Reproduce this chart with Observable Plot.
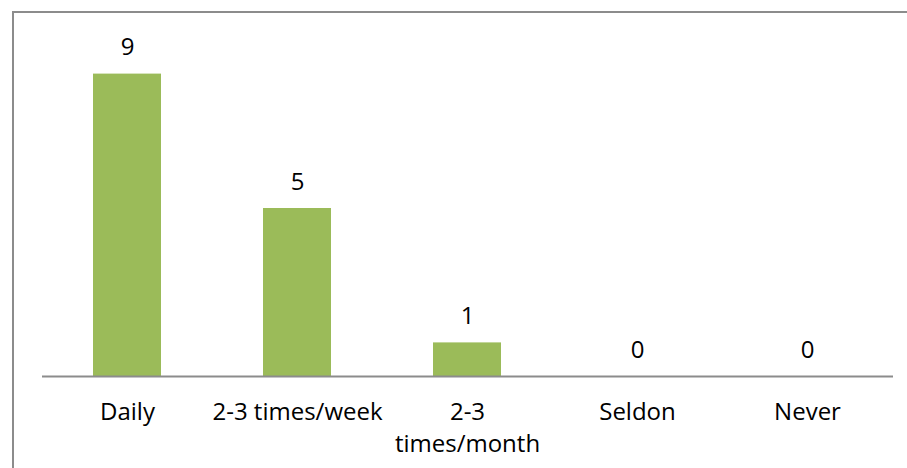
<!DOCTYPE html>
<html>
<head>
<meta charset="utf-8">
<script src="https://cdn.jsdelivr.net/npm/d3@7"></script>
<script src="https://cdn.jsdelivr.net/npm/@observablehq/plot@0.6"></script>
<style>
  html, body { margin: 0; padding: 0; background: #fff; }
  #wrap { position: relative; width: 907px; height: 468px; overflow: hidden; }
  #border { position: absolute; left: 12px; top: 11px; width: 1000px; height: 1000px; border-left: 2px solid #8c8c8c; border-top: 2px solid #8c8c8c; box-sizing: border-box; }
  #chart { position: absolute; left: 0; top: 0; }
</style>
</head>
<body>
<div id="wrap"><div id="border"></div><div id="chart"></div></div>
<script>
const categories = ["Daily", "2-3 times/week", "2-3 times/month", "Seldon", "Never"];
const tickLabels = ["Daily", "2-3 times/week", "2-3\ntimes/month", "Seldon", "Never"];
const values = [9, 5, 1, 0, 0];

const data = categories.map((c, i) => ({category: c, value: values[i]}));
const labelOf = new Map(categories.map((c, i) => [c, tickLabels[i]]));

const chart = Plot.plot({
  width: 907,
  height: 468,
  marginLeft: 42,
  marginRight: 14,
  marginTop: 40,
  marginBottom: 92,
  style: {fontFamily: "'Open Sans', sans-serif", fontSize: "24px", background: "transparent", color: "#000"},
  x: {domain: categories, paddingInner: 0.6, paddingOuter: 0.3, label: null},
  y: {domain: [0, 10], axis: null},
  marks: [
    Plot.barY(data, {x: "category", y: "value", fill: "#9BBB59"}),
    Plot.ruleY([0], {stroke: "#8c8c8c", strokeWidth: 2}),
    Plot.text(data, {x: "category", y: "value", text: d => String(d.value), lineAnchor: "bottom", dy: -19, fontSize: 24, fill: "#000"}),
    Plot.axisX({tickSize: 0, tickPadding: 21, fontSize: 24, lineHeight: 1.33, fill: "#000", tickFormat: d => labelOf.get(d), label: null})
  ]
});
document.getElementById("chart").appendChild(chart);
</script>
</body>
</html>
